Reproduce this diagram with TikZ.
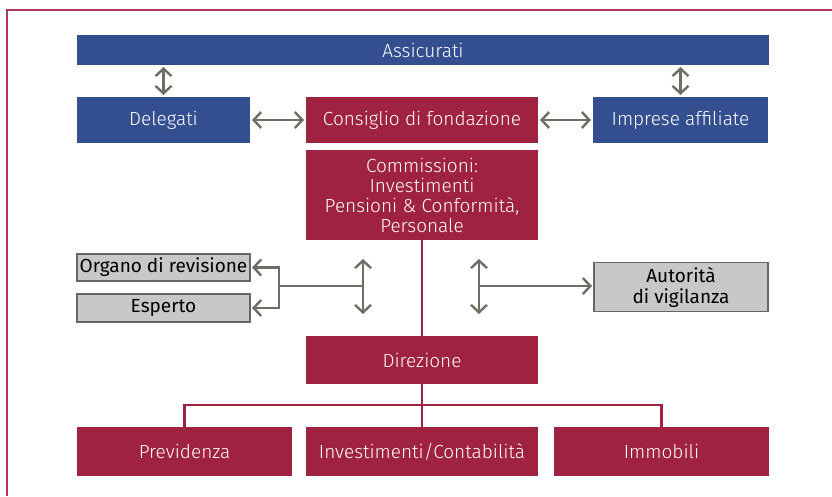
\documentclass[tikz,border=0pt]{standalone}
\usepackage{fontspec}
\setmainfont{Fira Sans Light}
\newfontfamily\graybfont{Fira Sans}
\usetikzlibrary{arrows.meta, positioning}
\definecolor{assblue}{HTML}{344F90}
\definecolor{fondred}{HTML}{A02241}
\definecolor{boxgray}{HTML}{C8C8C8}
\definecolor{arrowgray}{HTML}{6F6E66}
\definecolor{framered}{HTML}{B03A5B}
\tikzset{
x=1pt, y=-1pt, % one unit is one pixel of the layout
every node/.style={inner sep=0pt, outer sep=0pt, align=center},
bluebox/.style={fill=assblue, text=white, font=\fontsize{19}{20}\selectfont}, % upper blue boxes
redbox/.style={fill=fondred, text=white, font=\fontsize{19}{20}\selectfont}, % foundation boxes
graybox/.style={fill=boxgray, draw=gray!80!black, line width=1.2pt, text=black, font=\graybfont\fontsize{19}{21}\selectfont}, % control boxes
twoway/.style={draw=arrowgray, line width=2.4pt, {Straight Barb[length=7.5pt,width=16pt]}-{Straight Barb[length=7.5pt,width=16pt]}, shorten <=2pt, shorten >=2pt},
oneway/.style={draw=arrowgray, line width=2.4pt, -{Straight Barb[length=7.5pt,width=16pt]}, shorten >=2pt},
plainway/.style={draw=arrowgray, line width=2.4pt},
redline/.style={draw=fondred, line width=2.2pt},
}
\begin{document}
\begin{tikzpicture}
\useasboundingbox (0,0) rectangle (832,496);

% frame
\draw[framered, line width=2pt] (7,496) -- (7,10) -- (832,10);

\node[bluebox, minimum width=692pt, minimum height=30pt] at (423,50) (assic) {Assicurati};
\node[bluebox, minimum width=173pt, minimum height=46pt] at (163.5,120) (deleg) {Delegati};
\node[redbox, minimum width=232pt, minimum height=46pt] at (422,120) (consiglio) {Consiglio di fondazione};
\node[bluebox, minimum width=175pt, minimum height=46pt] at (680.5,120) (imprese) {Imprese affiliate};
\node[redbox, minimum width=232pt, minimum height=90pt] at (422,195) (commiss) {Commissioni:\\Investimenti\\Pensioni \& Conformità,\\Personale};
\node[graybox, minimum width=173pt, minimum height=27pt] at (163.5,267.5) (organo) {Organo di revisione};
\node[graybox, minimum width=173pt, minimum height=28pt] at (163.5,308) (esperto) {Esperto};
\node[graybox, minimum width=174pt, minimum height=49pt] at (681,287) (autorita) {Autorità\\di vigilanza};
\node[redbox, minimum width=232pt, minimum height=48pt] at (422,360) (direz) {Direzione};
\node[redbox, minimum width=215pt, minimum height=49pt] at (184.5,451.5) (previd) {Previdenza};
\node[redbox, minimum width=232pt, minimum height=49pt] at (422,451.5) (invest) {Investimenti/Contabilità};
\node[redbox, minimum width=215pt, minimum height=49pt] at (661.5,451.5) (immob) {Immobili};

\coordinate (ltop) at (363,259);
\coordinate (lbot) at (363,314);
\coordinate (lmid) at (363,286);
\coordinate (lbr) at (279,286);
\coordinate (rtop) at (479,259);
\coordinate (rbot) at (479,314);
\coordinate (rmid) at (479,286);
\coordinate (bus) at (422,405);

\draw[twoway] (deleg.north) -- (deleg.north |- assic.south);
\draw[twoway] (imprese.north) -- (imprese.north |- assic.south);
\draw[twoway] (deleg.east) -- (consiglio.west);
\draw[twoway] (consiglio.east) -- (imprese.west);

\draw[twoway, shorten <=0pt, shorten >=0pt] (ltop) -- (lbot);
\draw[plainway] (lmid) -- (lbr);
\draw[oneway] (lbr) |- (organo.east);
\draw[oneway] (lbr) |- (esperto.east);
\draw[twoway, shorten <=0pt, shorten >=0pt] (rtop) -- (rbot);
\draw[oneway] (rmid) -- (rmid -| autorita.west);

\draw[redline] (commiss.south) -- (direz.north);
\draw[redline] (direz.south) -- (invest.north);
\draw[redline] (previd.north) |- (bus) -| (immob.north);

\end{tikzpicture}
\end{document}
